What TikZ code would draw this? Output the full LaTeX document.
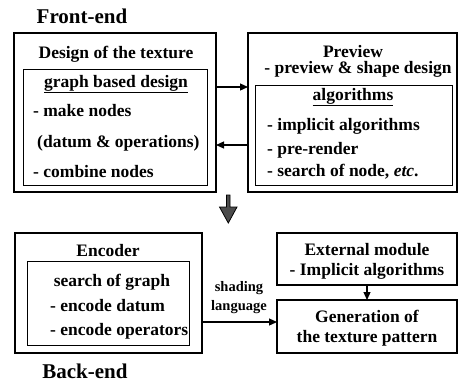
\documentclass[tikz,border=0pt]{standalone}
\usepackage{fontspec}
\setmainfont{Liberation Serif}
\usetikzlibrary{arrows.meta}
\begin{document}
\begin{tikzpicture}[x=1bp,y=-1bp,
  outerbox/.style={draw, line width=1.6bp, inner sep=0pt, outer sep=0pt},
  innerbox/.style={draw, line width=0.9bp, inner sep=0pt, outer sep=0pt},
  txt/.style={font=\fontsize{17.5bp}{20bp}\selectfont\bfseries, inner sep=0pt},
  head/.style={font=\fontsize{21bp}{24bp}\selectfont\bfseries, inner sep=0pt},
  small/.style={font=\fontsize{14.5bp}{16bp}\selectfont\bfseries, inner sep=0pt},
  conn/.style={line width=1.2bp, -{Triangle[length=8bp,width=7bp]}}
]
\useasboundingbox (0,0) rectangle (461,384);

% boxes
\node[outerbox, minimum width=202bp, minimum height=159bp] (design) at (115,112.5) {};
\node[innerbox, minimum width=184bp, minimum height=116bp] (designin) at (115,127) {};
\node[outerbox, minimum width=209bp, minimum height=159bp] (preview) at (352.5,112.5) {};
\node[innerbox, minimum width=197bp, minimum height=100bp] (previewin) at (353.5,135) {};
\node[outerbox, minimum width=187bp, minimum height=120bp] (encoder) at (108.5,293) {};
\node[innerbox, minimum width=162bp, minimum height=84bp] (encoderin) at (108,303) {};
\node[outerbox, minimum width=180bp, minimum height=52bp] (external) at (367,259) {};
\node[outerbox, minimum width=180bp, minimum height=53bp] (generation) at (367,326.5) {};

% headings
\node[head, anchor=base] (fe) at (82,23) {Front-end};
\node[head, anchor=base] (be) at (85,378) {Back-end};

% design texts
\node[txt, anchor=base] (t1) at (116,58) {Design of the texture};
\node[txt, anchor=base] (t2) at (116,87) {\underline{graph based design}};
\node[txt, anchor=base west] (t3) at (33,116) {- make nodes};
\node[txt, anchor=base west] (t4) at (37,147) {(datum \& operations)};
\node[txt, anchor=base west] (t5) at (33,177) {- combine nodes};

% preview texts
\node[txt, anchor=base] (p1) at (353,57) {Preview};
\node[txt, anchor=base] (p2) at (358,73) {- preview \& shape design};
\node[txt, anchor=base] (p3) at (353,100) {\underline{algorithms}};
\node[txt, anchor=base west] (p4) at (267,130) {- implicit algorithms};
\node[txt, anchor=base west] (p5) at (267,154) {- pre-render};
\node[txt, anchor=base west] (p6) at (267,176) {- search of node, \textit{etc}.};

% encoder texts
\node[txt, anchor=base] (e1) at (108,256) {Encoder};
\node[txt, anchor=base] (e2) at (112,286) {search of graph};
\node[txt, anchor=base west] (e3) at (50,311) {- encode datum};
\node[txt, anchor=base west] (e4) at (50,335) {- encode operators};

% external / generation texts
\node[txt, anchor=base] (x1) at (367,255) {External module};
\node[txt, anchor=base] (x2) at (367,275) {- Implicit algorithms};
\node[txt, anchor=base] (g1) at (367,322) {Generation of};
\node[txt, anchor=base] (g2) at (367,342) {the texture pattern};

% shading language label
\node[small, anchor=base] (s1) at (239,291) {shading};
\node[small, anchor=base] (s2) at (239,310) {language};

% connectors
\coordinate (a1) at (0,87);
\coordinate (a2) at (0,145);
\coordinate (a3) at (0,322);
\draw[conn] (design.east |- a1) -- (preview.west |- a1);
\draw[conn] (preview.west |- a2) -- (design.east |- a2);
\draw[conn] (encoder.east |- a3) -- (generation.west |- a3);
\draw[conn] (external.south) -- (generation.north);

% fat down arrow between front-end and back-end
\draw[line width=0.8bp, fill=black!70]
  (226.5,195) -- (230,195) -- (230,207) -- (237,207) -- (228.3,223)
  -- (219.5,207) -- (226.5,207) -- cycle;
\end{tikzpicture}
\end{document}
